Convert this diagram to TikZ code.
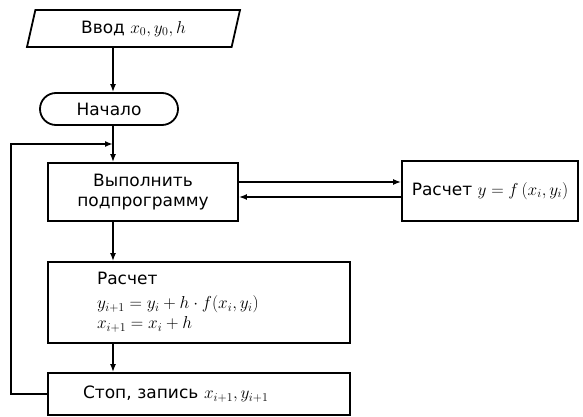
\documentclass[tikz,border=0pt]{standalone}
\usepackage{fontspec}
\setmainfont{DejaVu Sans}
\usepackage{tikz}
\usetikzlibrary{arrows.meta,shapes.geometric}

\begin{document}
\begin{tikzpicture}[x=1pt, y=-1pt, >={Latex[length=8pt,width=6pt]},
  line width=1.8pt, font=\fontsize{17}{20}\selectfont,
  blok/.style={draw, rectangle, inner sep=0pt},
  term/.style={draw, rectangle, rounded corners=16pt, inner sep=0pt}]
\useasboundingbox (0,0) rectangle (583,417);
\node[draw, trapezium, trapezium left angle=62, trapezium right angle=118,
  trapezium stretches body, minimum width=213pt, minimum height=37pt,
  inner sep=0pt] (vvod) at (133.5,28.5) {Ввод $x_0,y_0,h$\hspace{12pt}};
\node[term, minimum width=138pt, minimum height=32pt] (nach) at (109,109) {Начало};
\node[blok, minimum width=190pt, minimum height=58pt, align=center] (podpr) at (143,192)
  {Выполнить\\подпрограмму};
\node[blok, minimum width=176pt, minimum height=60pt] (rasf) at (490,191)
  {Расчет $y=f\,(x_i,y_i)$};
\node[blok, minimum height=81pt, text width=204pt, inner xsep=49pt, align=left] (rasch) at (199,302.5)
  {Расчет\\[4pt] $y_{i+1}=y_i+h\cdot f(x_i,y_i)$\\ $x_{i+1}=x_i+h$};
\node[blok, minimum height=42pt, text width=232pt, inner xsep=35pt, align=left] (stop) at (199,394)
  {Стоп, запись $x_{i+1},y_{i+1}$};
\coordinate (os) at (113,0);
\coordinate (uzel) at (113,144);
\coordinate (lev) at (11,0);
\coordinate (t1) at (0,182); \coordinate (t2) at (0,197);
% main line
\draw[->] (vvod.south -| os) -- (nach.north -| os);
\draw (nach.south -| os) -- (uzel);
\draw[->] (uzel) -- (podpr.north -| os);
\draw[->] (podpr.south -| os) -- (rasch.north -| os);
\draw[->] (rasch.south -| os) -- (stop.north -| os);
% loop back
\draw[->] (stop.west) -| (lev |- uzel) -- (uzel);
% call of the subprogram
\draw[->] (podpr.east |- t1) -- (rasf.west |- t1);
\draw[->] (rasf.west |- t2) -- (podpr.east |- t2);
\end{tikzpicture}
\end{document}
